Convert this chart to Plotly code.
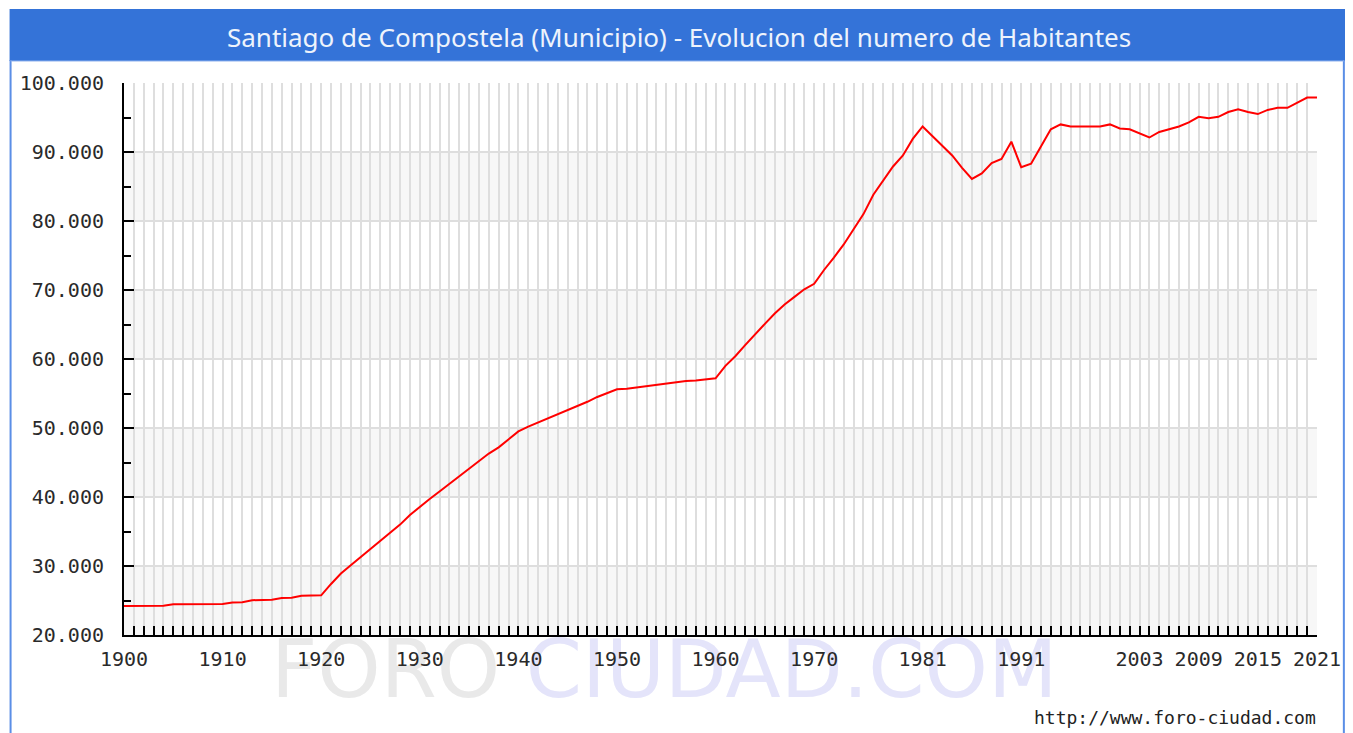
import base64
import plotly.graph_objects as go

years = list(range(1900, 2022))
population = [
    24200, 24200, 24200, 24200, 24250, 24450, 24450, 24450, 24450, 24450,  # 1900-1909
    24500, 24700, 24750, 25050, 25070, 25100, 25350, 25400, 25700, 25700,  # 1910-1919
    25750, 27400, 28900, 30100, 31300, 32400, 33600, 34800, 36000, 37400,  # 1920-1929
    38600, 39700, 40800, 41900, 43100, 44100, 45300, 46300, 47200, 48400,  # 1930-1939
    49500, 50200, 50800, 51400, 51900, 52500, 53100, 53800, 54500, 55100,  # 1940-1949
    55600, 55700, 55900, 56100, 56200, 56400, 56700, 56800, 56900, 57100,  # 1950-1959
    57200, 59000, 60400, 62000, 63600, 65100, 66600, 67900, 69000, 70100,  # 1960-1969
    70900, 72900, 74700, 76600, 78800, 81000, 83800, 85900, 87900, 89500,  # 1970-1979
    91900, 93700, 92300, 90900, 89500, 87700, 86100, 86900, 88400, 89000,  # 1980-1989
    91500, 87800, 88300, 90800, 93300, 94000, 93700, 93700, 93700, 93700,  # 1990-1999
    94000, 93400, 93300, 92700, 92100, 92900, 93300, 93700, 94300, 95100,  # 2000-2009
    94900, 95100, 95800, 96200, 95800, 95500, 96100, 96400, 96400, 97100,  # 2010-2019
    97900, 97900,                                                          # 2020-2021
]
x_label_years = [1900, 1910, 1920, 1930, 1940, 1950, 1960, 1970, 1981, 1991, 2003, 2009, 2015, 2021]
y_ticks = [20000, 30000, 40000, 50000, 60000, 70000, 80000, 90000, 100000]

title_text = "Santiago de Compostela (Municipio) - Evolucion del numero de Habitantes"
footer_text = "http://www.foro-ciudad.com"
watermark_left = "FORO"
watermark_right = "CIUDAD.COM"

# page offset (default body margin of the html page)
OFF = 8
W, H = 1345, 725
ML, MT = 123 - OFF, 83 - OFF
MR = W - (1322 - OFF)
MB = H - (635 - OFF)
PW, PH = W - ML - MR, H - MT - MB


def px_x(p):
    return (p - OFF - ML) / PW


def px_y(p):
    return (H - MB - (p - OFF)) / PH


BLUE = "#3473D8"
GRID = "#dedede"

fig = go.Figure()
fig.add_trace(go.Scatter(
    x=years, y=population, mode="lines",
    line=dict(color="#ff0000", width=2),
    hoverinfo="x+y", showlegend=False,
))

shapes = []
for i in range(len(y_ticks) - 1):
    if i % 2 == 0:
        shapes.append(dict(type="rect", xref="paper", yref="y", x0=0, x1=1,
                           y0=y_ticks[i], y1=y_ticks[i + 1],
                           fillcolor="#f7f7f7", line=dict(width=0), layer="below"))
shapes.append(dict(type="rect", xref="paper", yref="paper",
                   x0=px_x(8), x1=px_x(1353), y0=px_y(61), y1=px_y(9),
                   fillcolor=BLUE, line=dict(width=0), layer="above"))
for xpix in (9, 1349):
    shapes.append(dict(type="line", xref="paper", yref="paper",
                       x0=px_x(xpix), x1=px_x(xpix), y0=px_y(740), y1=px_y(60),
                       line=dict(color="#5a8ee6", width=2)))
shapes.append(dict(type="line", xref="paper", yref="paper",
                   x0=px_x(9), x1=px_x(1349), y0=px_y(61), y1=px_y(61),
                   line=dict(color="#8fb2ee", width=1)))

annotations = [
    dict(text=title_text, xref="paper", yref="paper", x=px_x(681), y=px_y(37),
         xanchor="center", yanchor="middle", showarrow=False,
         font=dict(family="Noto Sans", size=26, color="#eef3fc")),
    dict(text=footer_text, xref="paper", yref="paper", x=px_x(1323), y=px_y(717),
         xanchor="right", yanchor="middle", showarrow=False,
         font=dict(family="DejaVu Sans Mono", size=18, color="#222222")),
]

# watermark drawn as an image below the axis labels
svg = (
    '<svg xmlns="http://www.w3.org/2000/svg" width="900" height="90" viewBox="0 0 900 90">'
    '<text x="450" y="60" text-anchor="middle" font-family="DejaVu Sans" font-size="81">'
    '<tspan fill="#e9e9e9">' + watermark_left + '</tspan> '
    '<tspan fill="#e4e4fa">' + watermark_right + '</tspan></text></svg>'
)
src = "data:image/svg+xml;base64," + base64.b64encode(svg.encode("utf-8")).decode("ascii")
images = [dict(source=src, xref="paper", yref="paper",
               x=px_x(216), y=px_y(637), sizex=900 / PW, sizey=90 / PH,
               xanchor="left", yanchor="top", sizing="stretch", layer="below")]

tick_font = dict(family="DejaVu Sans Mono", size=20, color="#2a2a2a")

fig.update_layout(
    width=W, height=H,
    margin=dict(l=ML, r=MR, t=MT, b=MB),
    paper_bgcolor="white", plot_bgcolor="white",
    separators=",.",
    shapes=shapes, annotations=annotations, images=images,
    xaxis=dict(
        range=[1900, 2021], tickvals=x_label_years,
        ticks="inside", ticklen=9, tickwidth=2, tickcolor="black",
        showline=True, linecolor="black", linewidth=2,
        showgrid=True, gridcolor=GRID, gridwidth=2,
        zeroline=False, tickfont=tick_font, ticklabelstandoff=5,
        minor=dict(dtick=1, tick0=1900, ticks="inside", ticklen=9, tickwidth=2, tickcolor="black",
                   showgrid=True, gridcolor=GRID, gridwidth=2),
        fixedrange=True,
    ),
    yaxis=dict(
        range=[20000, 100000], tickvals=y_ticks, tickformat=",d",
        ticks="inside", ticklen=10, tickwidth=2, tickcolor="black",
        showline=True, linecolor="black", linewidth=2,
        showgrid=True, gridcolor=GRID, gridwidth=2,
        zeroline=False, tickfont=tick_font, ticklabelstandoff=14,
        minor=dict(dtick=5000, tick0=20000, ticks="inside", ticklen=7, tickwidth=2, tickcolor="black",
                   showgrid=False),
        fixedrange=True,
    ),
)

fig.write_html("out.html")
